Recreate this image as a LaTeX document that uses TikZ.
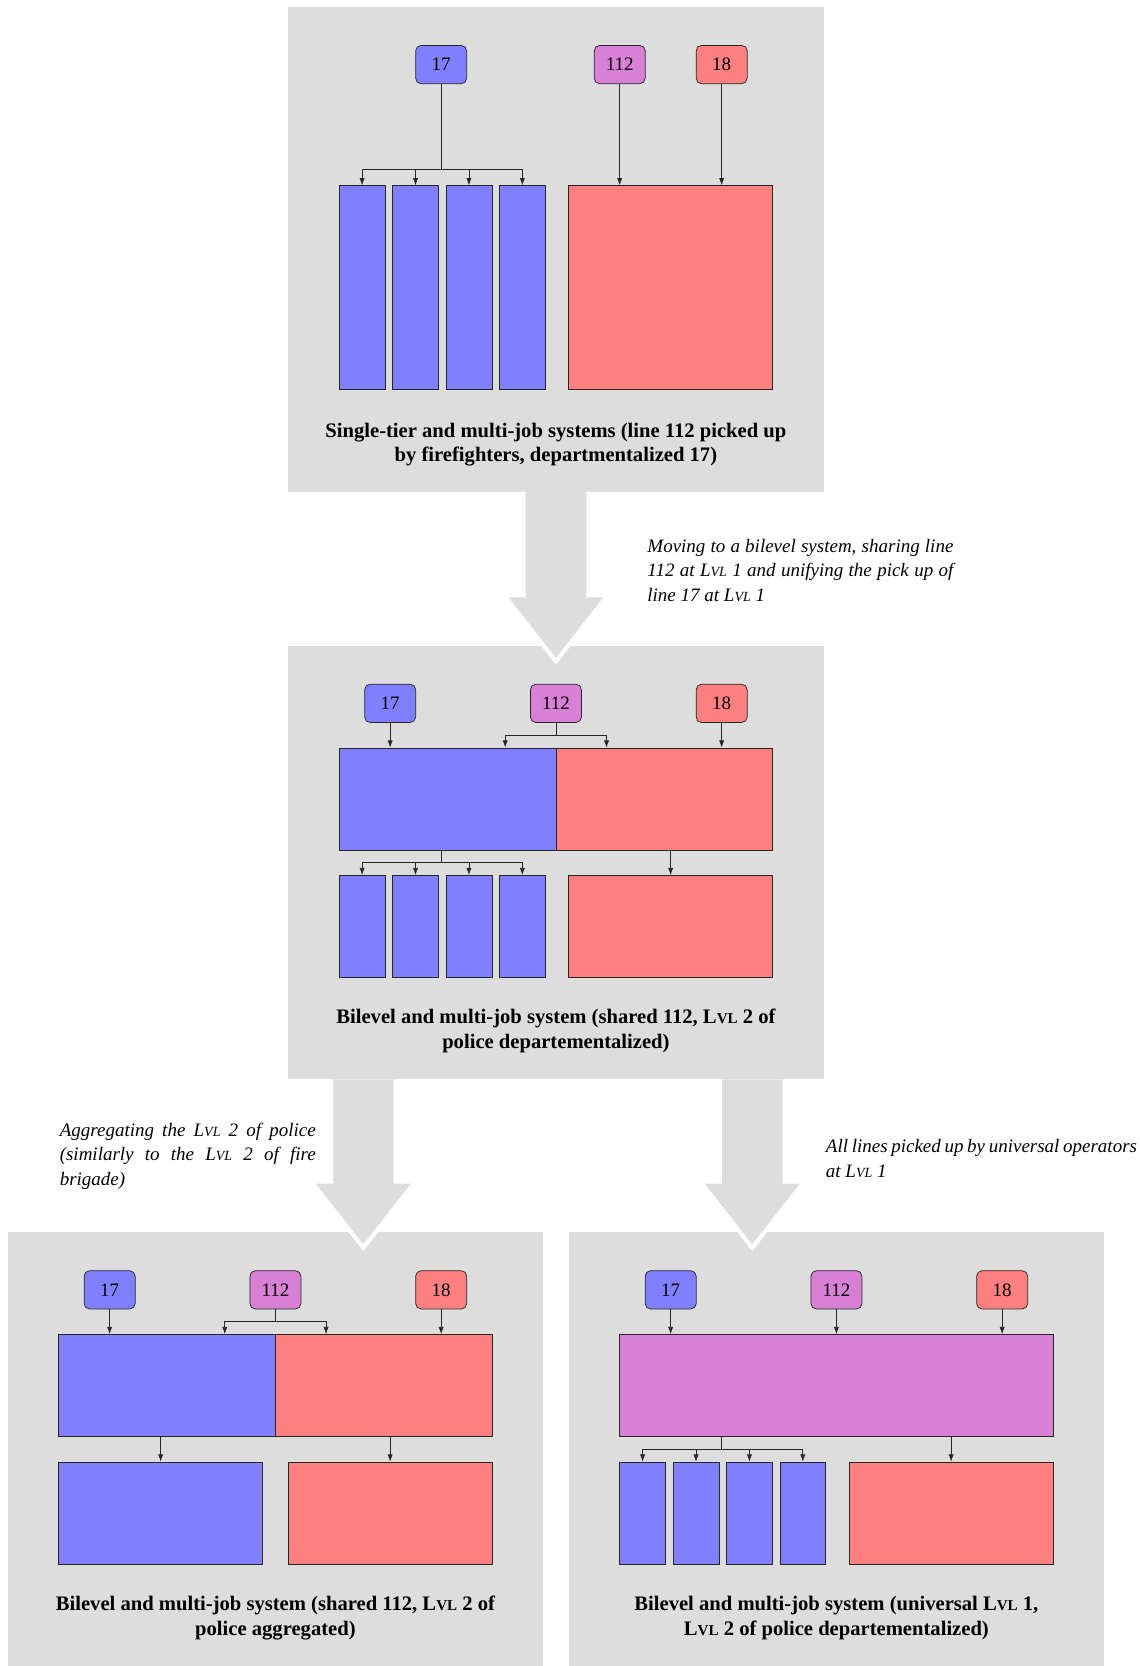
\documentclass[tikz,border=0pt]{standalone}
\usepackage{fontspec}
\setmainfont{Liberation Serif}
\usetikzlibrary{
  arrows.meta,
  positioning
}
\definecolor{panelgray}{RGB}{221,221,221}
\definecolor{policeblue}{RGB}{128,128,255}
\definecolor{firered}{RGB}{255,128,128}
\definecolor{sharedpurple}{RGB}{216,128,214}
\newcommand{\lvl}{L{\fontsize{7.8}{9}\selectfont VL}}
\newcommand{\lvlb}{L{\fontsize{8.4}{9}\selectfont VL}}

\begin{document}
\begin{tikzpicture}[
  x=0.5cm, y=0.5cm,
  panel/.style={fill=panelgray, inner sep=0pt, minimum width=10.5cm},
  callbox/.style={
    rounded corners=3pt,
    draw=black!85,
    align=center,
    font=\fontsize{10.6}{13}\selectfont,
    minimum width=1cm,
    minimum height=0.75cm,
    inner sep=0pt
  },
  unit/.style={draw=black!85, inner sep=0pt, minimum height=2cm},
  tallbar/.style={unit, fill=policeblue, minimum width=0.9cm, minimum height=4cm},
  shortbar/.style={unit, fill=policeblue, minimum width=0.9cm},
  caption/.style={align=center, font=\bfseries\fontsize{11.5}{13.8}\selectfont, inner sep=0pt},
  note/.style={align=justify, font=\itshape\fontsize{10.6}{13.6}\selectfont, inner sep=0pt, anchor=west},
  conn/.style={-{Latex[length=1.4mm,width=1mm]}, draw=black!85},
  bigarrow/.style={fill=panelgray, draw=white, line width=0.8mm, line join=miter}
]
\useasboundingbox (0,0) rectangle (44.667,65.333);

% panels
\node[panel, minimum height=9.5cm] (p1) at (21.8,55.55) {};
\node[panel, minimum height=8.5cm] (p2) at (21.8,31.5) {};
\node[panel, minimum height=8.5cm] (p3) at (10.8,8.5) {};
\node[panel, minimum height=8.5cm] (p4) at (32.8,8.5) {};

% transitions
\path[bigarrow] (20.53,46.05) -- (20.53,42) -- (19.76,42) -- (21.8,39.4) -- (23.84,42) -- (23.07,42) -- (23.07,46.05);
\path[bigarrow] (12.98,23) -- (12.98,19) -- (12.21,19) -- (14.25,16.4) -- (16.29,19) -- (15.52,19) -- (15.52,23);
\path[bigarrow] (28.23,23) -- (28.23,19) -- (27.46,19) -- (29.5,16.4) -- (31.54,19) -- (30.77,19) -- (30.77,23);

\node[note, text width=6cm] (mv1) at (25.375,42.96) {Moving to a bilevel system, sharing line 112 at \lvl{} 1 and unifying the pick up of line 17 at \lvl{} 1};
\node[note, text width=5.02cm] (mv2) at (2.33,20.0) {Aggregating the \lvl{} 2 of police (similarly to the \lvl{} 2 of fire brigade)};
\node[note, text width=6.1cm] (mv3) at (32.375,19.9) {All lines picked up by universal operators at \lvl{} 1};

% single-tier
\node[callbox, fill=policeblue] (a17) at (17.3,62.8) {17};
\node[callbox, fill=sharedpurple] (a112) at (24.3,62.8) {112};
\node[callbox, fill=firered] (a18) at (28.3,62.8) {18};
\node[tallbar] (a1) at (14.2,54.05) {};
\node[tallbar, right=0.1333cm of a1] (a2) {};
\node[tallbar, right=0.1333cm of a2] (a3) {};
\node[tallbar, right=0.1333cm of a3] (a4) {};
\node[unit, fill=firered, minimum width=4cm, minimum height=4cm] (ared) at (26.3,54.05) {};
\coordinate (aj) at (17.3,58.675);
\draw[draw=black!85] (a17) -- (aj);
\foreach \b in {a1,a2,a3,a4} \draw[conn] (aj) -| (\b.north);
\draw[conn] (a112) -- (a112 |- ared.north);
\draw[conn] (a18) -- (a18 |- ared.north);
\node[caption] (acap) at (21.8,47.9) {Single-tier and multi-job systems (line 112 picked up\\by firefighters, departmentalized 17)};

% bilevel, shared 112
\node[callbox, fill=policeblue] (b17) at (15.3,37.75) {17};
\node[callbox, fill=sharedpurple] (b112) at (21.8,37.75) {112};
\node[callbox, fill=firered] (b18) at (28.3,37.75) {18};
\node[unit, fill=policeblue, minimum width=4.25cm] (bblue) at (17.55,34) {};
\node[unit, fill=firered, minimum width=4.25cm] (bred) at (26.05,34) {};
\node[shortbar] (b1) at (14.2,29) {};
\node[shortbar, right=0.1333cm of b1] (b2) {};
\node[shortbar, right=0.1333cm of b2] (b3) {};
\node[shortbar, right=0.1333cm of b3] (b4) {};
\node[unit, fill=firered, minimum width=4cm] (bsmall) at (26.3,29) {};
\coordinate (bk) at (21.8,36.5);
\coordinate (bj) at (17.3,31.5);
\draw[conn] (b17) -- (b17 |- bblue.north);
\draw[conn] (b18) -- (b18 |- bred.north);
\draw[draw=black!85] (b112) -- (bk);
\draw[conn] (bk) -| ([xshift=-1cm]bblue.north east);
\draw[conn] (bk) -| ([xshift=1cm]bred.north west);
\draw[draw=black!85] (bj |- bblue.south) -- (bj);
\foreach \b in {b1,b2,b3,b4} \draw[conn] (bj) -| (\b.north);
\draw[conn] (bred.south -| bsmall) -- (bsmall);
\node[caption] (bcap) at (21.8,24.9) {Bilevel and multi-job system (shared 112, \lvlb{} 2 of\\police departementalized)};

% police aggregated
\node[callbox, fill=policeblue] (c17) at (4.3,14.75) {17};
\node[callbox, fill=sharedpurple] (c112) at (10.8,14.75) {112};
\node[callbox, fill=firered] (c18) at (17.3,14.75) {18};
\node[unit, fill=policeblue, minimum width=4.25cm] (cblue) at (6.55,11) {};
\node[unit, fill=firered, minimum width=4.25cm] (cred) at (15.05,11) {};
\node[unit, fill=policeblue, minimum width=4cm] (cbluesmall) at (6.3,6) {};
\node[unit, fill=firered, minimum width=4cm] (credsmall) at (15.3,6) {};
\coordinate (ck) at (10.8,13.5);
\draw[conn] (c17) -- (c17 |- cblue.north);
\draw[conn] (c18) -- (c18 |- cred.north);
\draw[draw=black!85] (c112) -- (ck);
\draw[conn] (ck) -| ([xshift=-1cm]cblue.north east);
\draw[conn] (ck) -| ([xshift=1cm]cred.north west);
\draw[conn] (cblue.south -| cbluesmall) -- (cbluesmall);
\draw[conn] (cred.south -| credsmall) -- (credsmall);
\node[caption] (ccap) at (10.8,1.87) {Bilevel and multi-job system (shared 112, \lvlb{} 2 of\\police aggregated)};

% universal operators
\node[callbox, fill=policeblue] (d17) at (26.3,14.75) {17};
\node[callbox, fill=sharedpurple] (d112) at (32.8,14.75) {112};
\node[callbox, fill=firered] (d18) at (39.3,14.75) {18};
\node[unit, fill=sharedpurple, minimum width=8.5cm] (dall) at (32.8,11) {};
\node[shortbar] (d1) at (25.2,6) {};
\node[shortbar, right=0.1333cm of d1] (d2) {};
\node[shortbar, right=0.1333cm of d2] (d3) {};
\node[shortbar, right=0.1333cm of d3] (d4) {};
\node[unit, fill=firered, minimum width=4cm] (dred) at (37.3,6) {};
\coordinate (dj) at (28.3,8.5);
\draw[conn] (d17) -- (d17 |- dall.north);
\draw[conn] (d112) -- (d112 |- dall.north);
\draw[conn] (d18) -- (d18 |- dall.north);
\draw[draw=black!85] (dj |- dall.south) -- (dj);
\foreach \b in {d1,d2,d3,d4} \draw[conn] (dj) -| (\b.north);
\draw[conn] (dall.south -| dred) -- (dred);
\node[caption] (dcap) at (32.8,1.87) {Bilevel and multi-job system (universal \lvlb{} 1,\\\lvlb{} 2 of police departementalized)};

\end{tikzpicture}
\end{document}
